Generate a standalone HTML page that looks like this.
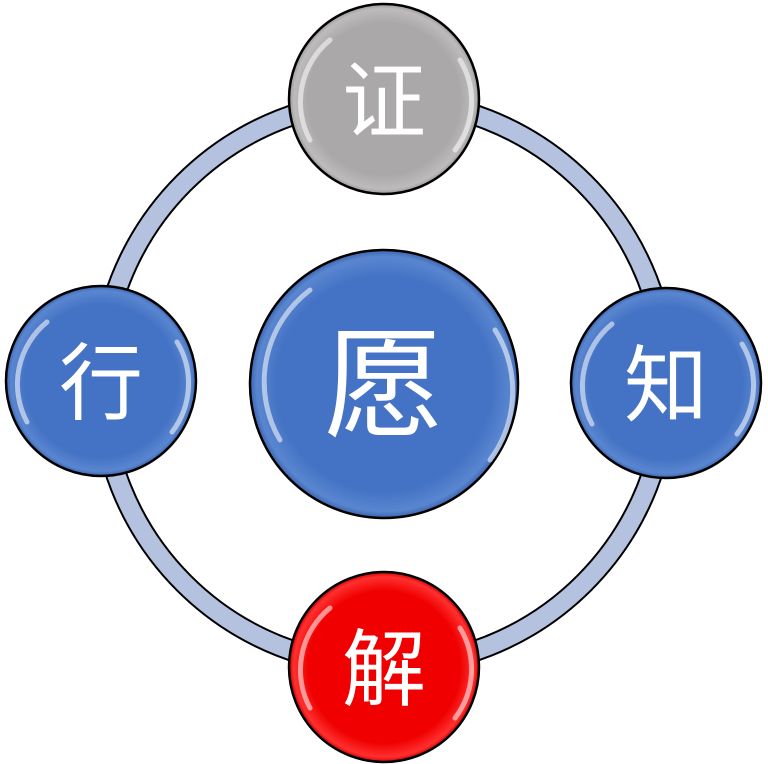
<!DOCTYPE html>
<html><head><meta charset="utf-8"><style>
html,body{margin:0;padding:0;background:#fff;}
svg{display:block}
text{font-family:"Liberation Sans","Noto Sans CJK SC",sans-serif;fill:#fff;text-anchor:middle;dominant-baseline:central}
</style></head><body>
<svg width="768" height="764" viewBox="0 0 768 764">
<defs>
<radialGradient id="gb" cx="50%" cy="50%" r="50%"><stop offset="0.8" stop-color="#4472c4"/><stop offset="0.95" stop-color="#5a86d0"/><stop offset="1" stop-color="#3c64ae"/></radialGradient>
<radialGradient id="gg" cx="50%" cy="50%" r="50%"><stop offset="0.8" stop-color="#aaa8a8"/><stop offset="0.95" stop-color="#bdbbbb"/><stop offset="1" stop-color="#9a9898"/></radialGradient>
<radialGradient id="gr" cx="50%" cy="50%" r="50%"><stop offset="0.8" stop-color="#f00000"/><stop offset="0.95" stop-color="#ff3030"/><stop offset="1" stop-color="#d00000"/></radialGradient>
</defs>
<circle cx="384" cy="383" r="283" fill="none" stroke="#000" stroke-width="22"/>
<circle cx="384" cy="383" r="283" fill="none" stroke="#b4c2e0" stroke-width="18"/>
<g stroke="#000" stroke-width="2.5">
<circle cx="384" cy="99" r="95" fill="url(#gg)"/>
<circle cx="101" cy="381" r="95" fill="url(#gb)"/>
<circle cx="666" cy="383" r="95" fill="url(#gb)"/>
<circle cx="384" cy="667" r="95" fill="url(#gr)"/>
<circle cx="384" cy="384" r="134" fill="url(#gb)"/>
</g>
<g fill="none" stroke="#fff" stroke-opacity="0.55" stroke-width="5" stroke-linecap="round">
<path d="M310 140 A80 80 0 0 1 330 40"/><path d="M460 60 A80 80 0 0 1 455 150"/>
<path d="M27 422 A80 80 0 0 1 47 322"/><path d="M177 342 A80 80 0 0 1 172 432"/>
<path d="M592 424 A80 80 0 0 1 612 324"/><path d="M742 344 A80 80 0 0 1 737 434"/>
<path d="M310 708 A80 80 0 0 1 330 608"/><path d="M460 628 A80 80 0 0 1 455 718"/>
<path d="M280 440 A115 115 0 0 1 310 290"/><path d="M495 330 A115 115 0 0 1 490 460"/>
</g>
<text x="384" y="102" font-size="84">证</text>
<text x="101" y="384" font-size="84">行</text>
<text x="666" y="386" font-size="84">知</text>
<text x="384" y="670" font-size="84">解</text>
<text x="384" y="386" font-size="120">愿</text>
</svg>
</body></html>
